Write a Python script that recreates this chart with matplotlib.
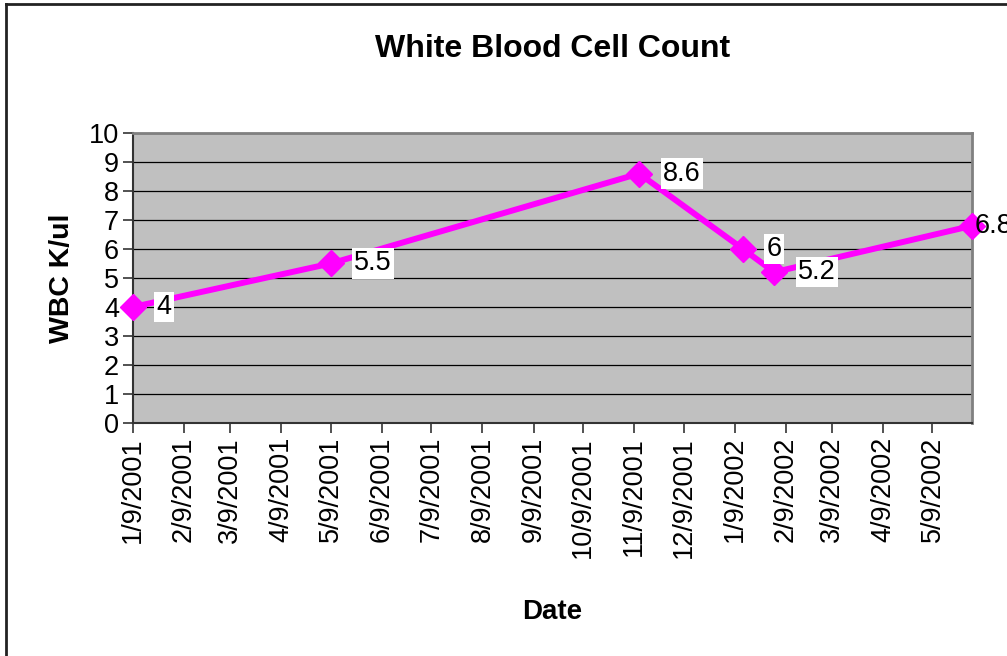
import matplotlib

matplotlib.use("Agg")
import datetime as dt
import matplotlib.pyplot as plt
import matplotlib.dates as mdates
from matplotlib.lines import Line2D

plt.rcParams["font.family"] = ["Liberation Sans", "DejaVu Sans"]

# data
dates = [
    dt.date(2001, 1, 9),
    dt.date(2001, 5, 9),
    dt.date(2001, 11, 12),
    dt.date(2002, 1, 14),
    dt.date(2002, 2, 2),
    dt.date(2002, 6, 2),
]
wbc = [4, 5.5, 8.6, 6, 5.2, 6.8]
labels = ["4", "5.5", "8.6", "6", "5.2", "6.8"]

tick_dates = [dt.date(2001 + (m // 12), m % 12 + 1, 9) for m in range(17)]
tick_labels = [f"{d.month}/{d.day}/{d.year}" for d in tick_dates]

fig = plt.figure(figsize=(10.07, 6.56), dpi=100)
ax = fig.add_axes([0.1321, 0.3552, 0.8332, 0.4421])
ax.set_facecolor("#C0C0C0")

x = mdates.date2num(dates)
ax.plot(x, wbc, color="#FF00FF", lw=4.3, marker="D", markersize=13,
        markeredgecolor="#FF00FF", zorder=3, clip_on=False)

for i, (xi, yi, lab) in enumerate(zip(x, wbc, labels)):
    # the last label is pushed back inside the chart edge, as Excel does
    off = 2 if i == len(x) - 1 else 17
    ax.annotate(lab, (xi, yi), xytext=(off, 0), textcoords="offset points",
                ha="left", va="center", fontsize=19.5, annotation_clip=False,
                bbox=dict(boxstyle="square,pad=0.08", fc="white", ec="none")
                if i != len(x) - 1 else None,
                zorder=4)

ax.set_xlim(x[0], x[-1])
ax.set_ylim(0, 10)
ax.set_yticks(range(11))
ax.yaxis.grid(True, color="black", lw=0.9)
ax.set_axisbelow(True)

ax.set_xticks(mdates.date2num(tick_dates))
ax.set_xticklabels(tick_labels, rotation=90)
ax.tick_params(axis="both", labelsize=19.5, direction="out", length=7,
               width=1.2, color="#333333", pad=3)

for side in ["top", "right"]:
    ax.spines[side].set_color("#808080")
    ax.spines[side].set_linewidth(2)
for side in ["left", "bottom"]:
    ax.spines[side].set_color("#333333")
    ax.spines[side].set_linewidth(1.5)

ax.set_title("White Blood Cell Count", fontsize=23, fontweight="bold", pad=55)
ax.set_ylabel("WBC K/ul", fontsize=20.5, fontweight="bold", labelpad=10)
ax.set_xlabel("Date", fontsize=20, fontweight="bold", labelpad=30)

# chart area border (left and top edges visible)
fig.add_artist(Line2D([6 / 1007, 6 / 1007], [0, 1 - 4 / 656], color="#222222", lw=2))
fig.add_artist(Line2D([6 / 1007, 1], [1 - 4 / 656, 1 - 4 / 656], color="#222222", lw=2))

fig.savefig("out.png", dpi=100)
